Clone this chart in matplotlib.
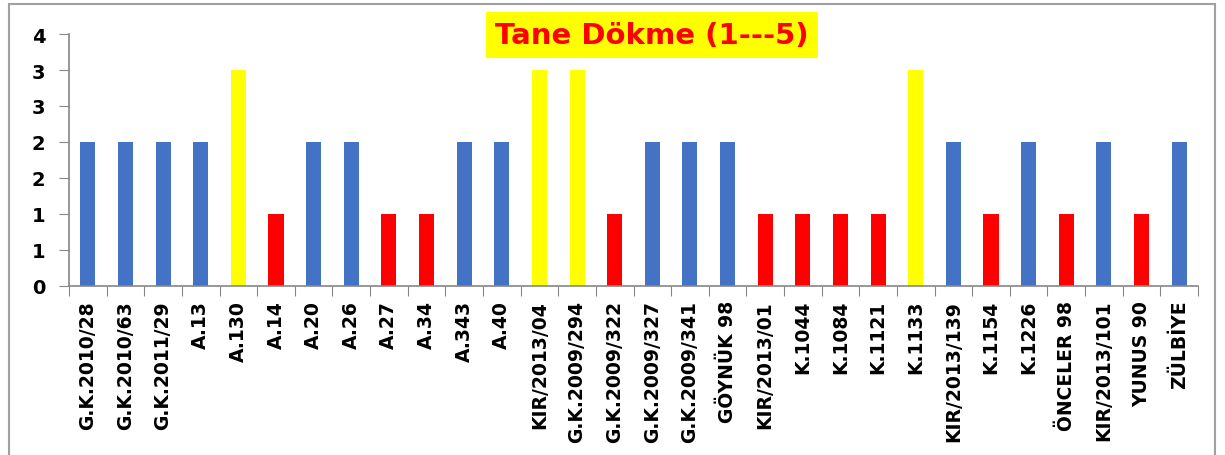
import matplotlib
matplotlib.use("Agg")
import matplotlib.pyplot as plt
from matplotlib.patches import Rectangle

# Çeşitler ve tane dökme skorları
cesitler = ["G.K.2010/28", "G.K.2010/63", "G.K.2011/29", "A.13", "A.130", "A.14",
            "A.20", "A.26", "A.27", "A.34", "A.343", "A.40", "KIR/2013/04",
            "G.K.2009/294", "G.K.2009/322", "G.K.2009/327", "G.K.2009/341",
            "GÖYNÜK 98", "KIR/2013/01", "K.1044", "K.1084", "K.1121", "K.1133",
            "KIR/2013/139", "K.1154", "K.1226", "ÖNCELER 98", "KIR/2013/101",
            "YUNUS 90", "ZÜLBİYE"]
skorlar = [2, 2, 2, 2, 3, 1, 2, 2, 1, 1, 2, 2, 3, 3, 1, 2, 2, 2, 1, 1, 1, 1, 3,
           2, 1, 2, 1, 2, 1, 2]

y_ticks = [0, 0.5, 1, 1.5, 2, 2.5, 3, 3.5]
y_etiketler = ["0", "1", "1", "2", "2", "3", "3", "4"]

renkler = {1: "#FF0000", 2: "#4472C4", 3: "#FFFF00"}

fig = plt.figure(figsize=(12.25, 4.56), dpi=100)
ax = fig.add_axes([69 / 1225, 1 - 287 / 456, (1198 - 69) / 1225, (287 - 35) / 456])

x = range(len(cesitler))
ax.bar(x, skorlar, width=0.4, color=[renkler[s] for s in skorlar])

ax.set_xlim(-0.5, len(cesitler) - 0.5)
ax.set_ylim(0, 3.5)
ax.set_yticks(y_ticks)
ax.set_yticklabels(y_etiketler, fontsize=14, fontweight="bold")

# kategori sınırlarında çentikler
ax.set_xticks([i - 0.5 for i in range(len(cesitler) + 1)])
ax.set_xticklabels([])
ax.set_xticks(list(x), minor=True)
ax.set_xticklabels(cesitler, minor=True, rotation=90, fontsize=13.5, fontweight="bold")
ax.tick_params(axis="x", which="minor", length=0, pad=10)
ax.tick_params(axis="x", which="major", length=7, color="#868686")
ax.tick_params(axis="y", length=7, color="#868686", pad=10)

for s in ["top", "right"]:
    ax.spines[s].set_visible(False)
for s in ["left", "bottom"]:
    ax.spines[s].set_color("#868686")
    ax.spines[s].set_linewidth(1.2)

# başlık kutusu
fig.text(652 / 1225, 1 - 36 / 456, "Tane Dökme (1---5)", ha="center", va="center",
         fontsize=21, fontweight="bold", color="#FF0000",
         bbox=dict(boxstyle="square,pad=0.3", facecolor="#FFFF00", edgecolor="none"))

# grafik çerçevesi
fig.patches.append(Rectangle((9 / 1225, -0.1), (1215 - 9) / 1225, 1.1 - 5 / 456,
                             transform=fig.transFigure, fill=False,
                             edgecolor="#A0A0A0", linewidth=1.5))

fig.savefig("out.png", dpi=100)
